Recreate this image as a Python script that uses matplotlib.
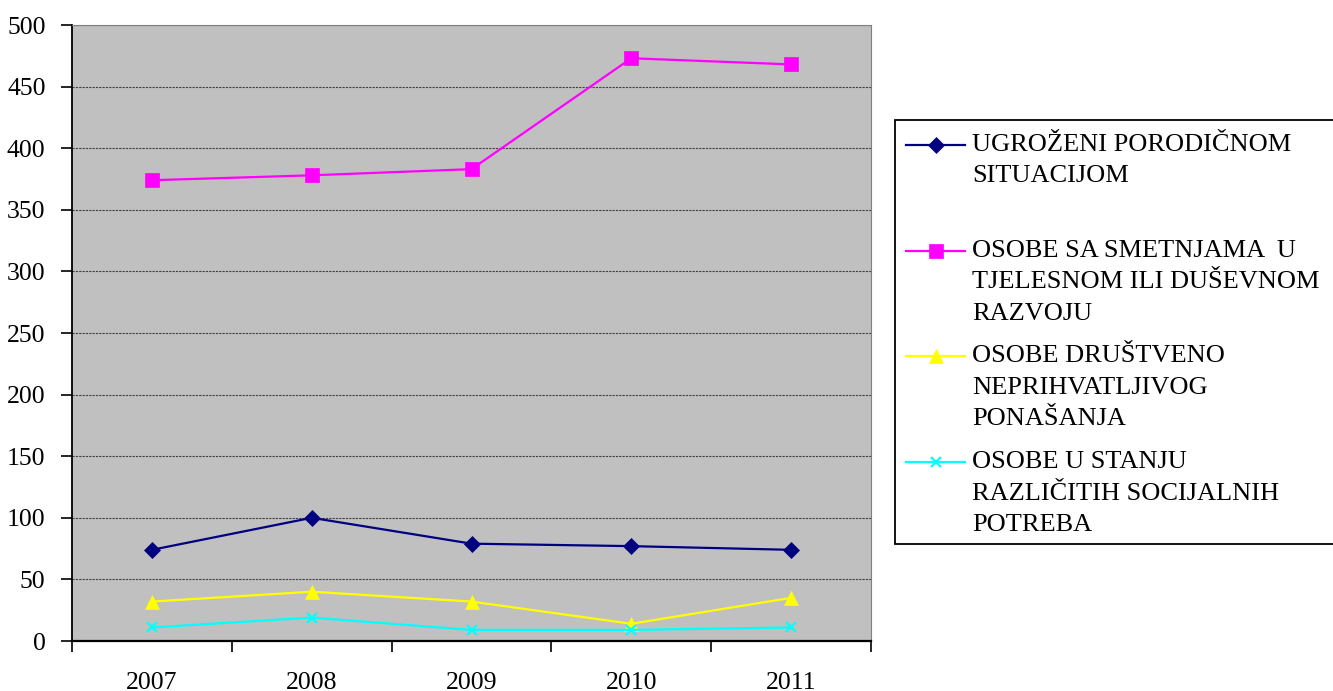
import matplotlib
matplotlib.use("Agg")
import matplotlib.pyplot as plt
from matplotlib.lines import Line2D
from matplotlib.patches import Rectangle

years = ["2007", "2008", "2009", "2010", "2011"]
ugrozeni = [74, 100, 79, 77, 74]
smetnje = [374, 378, 383, 473, 468]
neprihvatljivo = [32, 40, 32, 14, 35]
socijalne = [11, 19, 9, 9, 11]

labels = [
    "UGROŽENI PORODIČNOM\nSITUACIJOM",
    "OSOBE SA SMETNJAMA  U\nTJELESNOM ILI DUŠEVNOM\nRAZVOJU",
    "OSOBE DRUŠTVENO\nNEPRIHVATLJIVOG\nPONAŠANJA",
    "OSOBE U STANJU\nRAZLIČITIH SOCIJALNIH\nPOTREBA",
]
series = [ugrozeni, smetnje, neprihvatljivo, socijalne]
colors = ["#000080", "#FF00FF", "#FFFF00", "#00FFFF"]
markers = ["D", "s", "^", "x"]
msizes = [8, 10, 10, 7]

plt.rcParams['font.family'] = ['Liberation Serif', 'DejaVu Serif']

fig = plt.figure(figsize=(13.33, 6.91), dpi=100)
W, H = 1333, 691
ax = fig.add_axes([72 / W, 1 - 641 / H, (871 - 72) / W, (641 - 25) / H])
ax.set_facecolor("#C0C0C0")

x = list(range(len(years)))
for s, c, m, ms in zip(series, colors, markers, msizes):
    ax.plot(x, s, color=c, marker=m, markersize=ms, linewidth=1.6,
            markeredgewidth=1.6 if m == "x" else 0.5, zorder=3)

ax.set_xlim(-0.5, len(years) - 0.5)
ax.set_ylim(0, 500)
ax.set_yticks(range(0, 501, 50))
ax.set_xticks([i - 0.5 for i in range(len(years) + 1)])
ax.set_xticklabels([])
ax.set_xticks(x, minor=True)
ax.set_xticklabels(years, minor=True)
ax.tick_params(axis='x', which='minor', length=0, pad=22, labelsize=18.5)
ax.tick_params(axis='x', which='major', length=8, width=1.2, direction='out')
ax.tick_params(axis='y', length=8, width=1.2, direction='out', labelsize=18.5, pad=11)
ax.yaxis.grid(True, color="#404040", linestyle=(0, (2, 1)), linewidth=0.8)
ax.set_axisbelow(True)
for side in ["top", "right"]:
    ax.spines[side].set_color("#808080")
    ax.spines[side].set_linewidth(0.8)
ax.spines["left"].set_linewidth(1.3)
ax.spines["bottom"].set_linewidth(1.6)

# legend box
fig.patches.append(Rectangle((895 / W, 1 - 544 / H), (1340 - 895) / W, (544 - 120) / H,
                             transform=fig.transFigure, facecolor="white",
                             edgecolor="black", linewidth=1.3, zorder=1))
first_y = [145, 251, 356, 462]
line_gap = 31.5
for lab, c, m, ms, y0 in zip(labels, colors, markers, msizes, first_y):
    yf = 1 - y0 / H
    fig.add_artist(Line2D([906 / W, 965 / W], [yf, yf], transform=fig.transFigure,
                          color=c, linewidth=1.6, zorder=2))
    fig.add_artist(Line2D([936 / W], [yf], transform=fig.transFigure, color=c,
                          marker=m, markersize=ms, markeredgewidth=1.6 if m == "x" else 0.5,
                          linestyle="none", zorder=2))
    for k, line in enumerate(lab.split("\n")):
        fig.text(972 / W, 1 - (y0 + k * line_gap) / H, line, fontsize=19,
                 va="center", ha="left", zorder=3)

fig.savefig("out.png", dpi=100)
